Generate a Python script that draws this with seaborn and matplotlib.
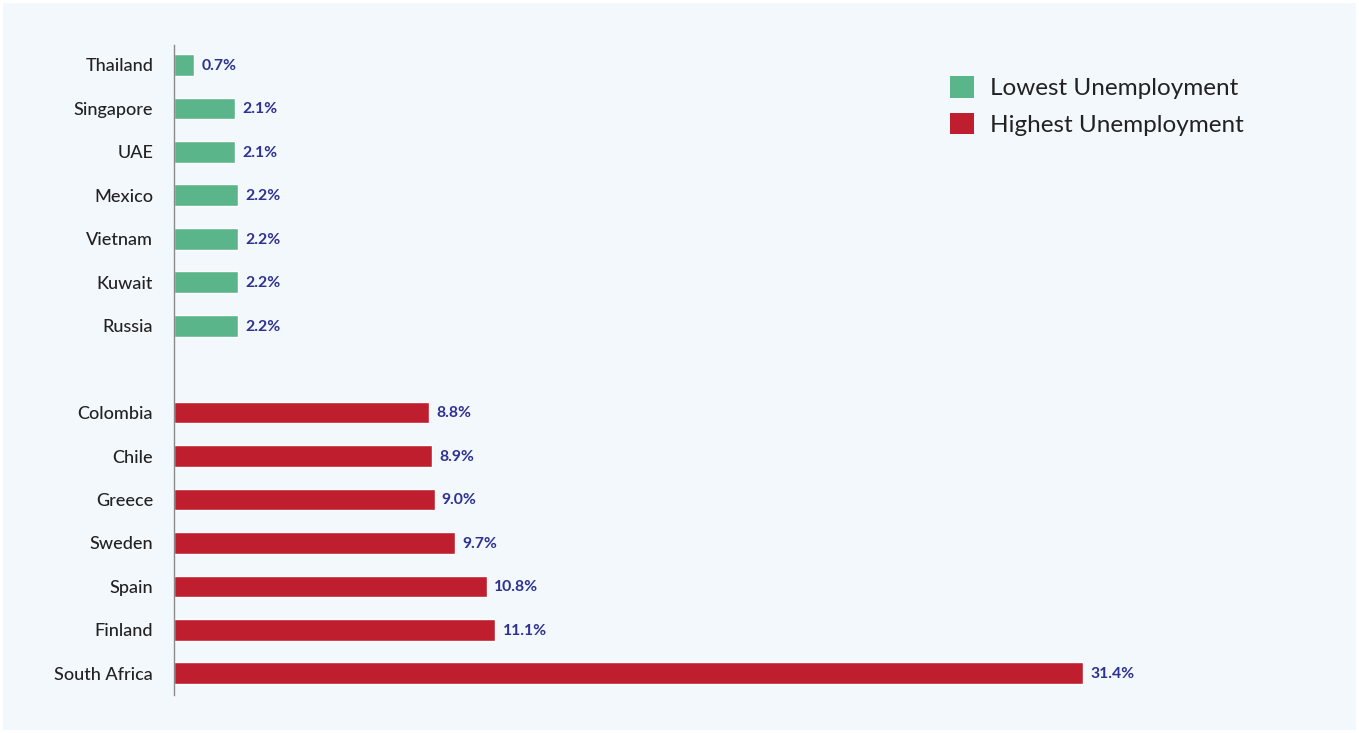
import matplotlib
matplotlib.use("Agg")
import matplotlib.pyplot as plt
import seaborn as sns
import pandas as pd
from matplotlib.patches import Patch

countries = ["Thailand", "Singapore", "UAE", "Mexico", "Vietnam", "Kuwait", "Russia",
             "Colombia", "Chile", "Greece", "Sweden", "Spain", "Finland", "South Africa"]
values = [0.7, 2.1, 2.1, 2.2, 2.2, 2.2, 2.2,
          8.8, 8.9, 9.0, 9.7, 10.8, 11.1, 31.4]
groups = ["Lowest Unemployment"] * 7 + ["Highest Unemployment"] * 7
labels = ["0.7%", "2.1%", "2.1%", "2.2%", "2.2%", "2.2%", "2.2%",
          "8.8%", "8.9%", "9.0%", "9.7%", "10.8%", "11.1%", "31.4%"]

GREEN = "#5BB58B"
RED = "#BE1E2D"
BG = "#F3F8FC"
LABEL_C = "#2E3192"

df = pd.DataFrame({"country": countries, "value": values, "group": groups})
spacer = " "
order = countries[:7] + [spacer] + countries[7:]

sns.set_style("white")
plt.rcParams["font.family"] = ["Lato", "DejaVu Sans"]

fig = plt.figure(figsize=(13.59, 7.33), dpi=100)
fig.patch.set_facecolor(BG)
fig.patch.set_edgecolor("white")
fig.patch.set_linewidth(4)

W, H = 1359, 733
ax_left, ax_right, ax_top, ax_bot = 174, 1300, 45, 695
ax = fig.add_axes([ax_left / W, 1 - ax_bot / H, (ax_right - ax_left) / W, (ax_bot - ax_top) / H])
ax.set_facecolor(BG)

sns.barplot(data=df, x="value", y="country", hue="group", order=order,
            hue_order=["Lowest Unemployment", "Highest Unemployment"],
            palette={"Lowest Unemployment": GREEN, "Highest Unemployment": RED},
            dodge=False, width=0.5, saturation=1, legend=False, ax=ax, orient="h")

px_per_unit = 28.95
ax.set_xlim(0, (ax_right - ax_left) / px_per_unit)
ax.set_ylim(14.5, -0.46)

for i, (c, v, lab) in enumerate(zip(countries, values, labels)):
    ypos = order.index(c)
    ax.text(v + 0.25, ypos + 0.02, lab, va="center", ha="left", fontsize=11.3,
            fontweight="bold", color=LABEL_C)

for s in ["top", "right", "bottom"]:
    ax.spines[s].set_visible(False)
ax.spines["left"].set_color("#8A8A8A")
ax.spines["left"].set_linewidth(1)
ax.set_xticks([])
ax.set_xlabel("")
ax.set_ylabel("")
ax.tick_params(axis="y", length=0, pad=15, labelsize=13, labelcolor="#222222")
for t in ax.get_yticklabels():
    t.set_fontweight("medium")

handles = [Patch(facecolor=GREEN, edgecolor="none", label="Lowest Unemployment"),
           Patch(facecolor=RED, edgecolor="none", label="Highest Unemployment")]
fig.legend(handles=handles, loc="upper left", bbox_to_anchor=(950 / W, 1 - 76 / H),
           frameon=False, fontsize=17.5, borderpad=0, borderaxespad=0,
           handlelength=1.0, handleheight=1.0,
           handletextpad=0.65, labelspacing=0.55, labelcolor="#222222")

fig.savefig("out.png", dpi=100, facecolor=fig.get_facecolor(), edgecolor=fig.get_edgecolor())
